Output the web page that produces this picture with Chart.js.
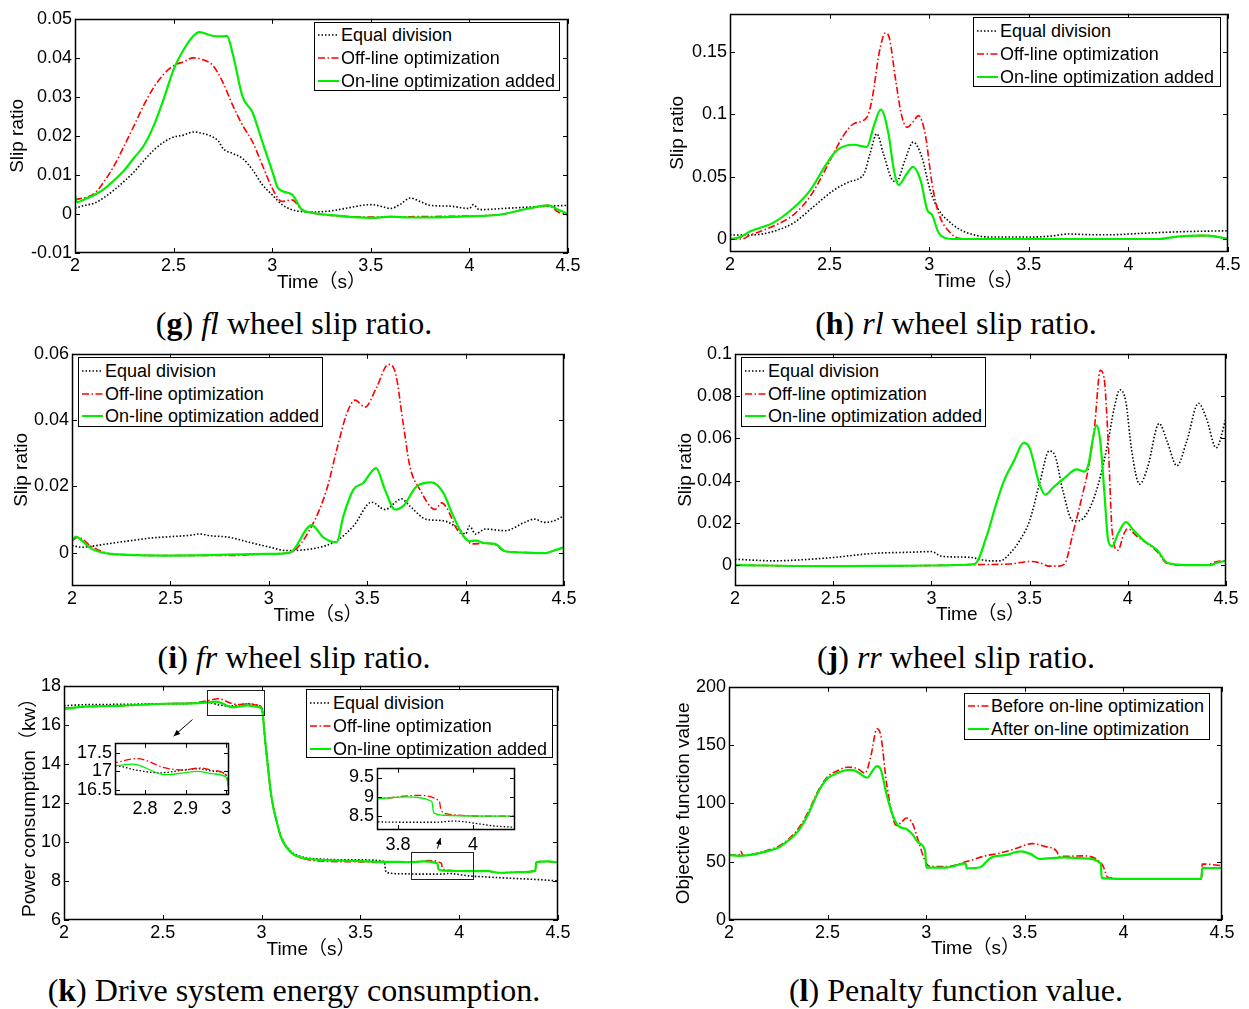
<!DOCTYPE html>
<html>
<head>
<meta charset="utf-8">
<script src="https://cdn.jsdelivr.net/npm/chart.js@4.4.0/dist/chart.umd.min.js"></script>
<style>
body { margin:0; background:#fff; width:1249px; height:1009px; position:relative; overflow:hidden;
       font-family:"Liberation Sans", Arial, "Noto Sans CJK SC", sans-serif; }
canvas { position:absolute; }
.legend { position:absolute; box-sizing:border-box; border:1px solid #000; background:#fff; font-size:18px; color:#000; }
.legend .row { position:absolute; left:0; height:22px; display:flex; align-items:center; white-space:nowrap; }
.legend svg { display:block; }
.cap { position:absolute; font-family:"Liberation Serif", "Times New Roman", serif; font-size:32px; line-height:1;
       white-space:nowrap; transform:translate(-50%, -50%); color:#000; }
</style>
</head>
<body>
<script>
// ---- data: [time (s), value] ----
const xTicks = [2, 2.5, 3, 3.5, 4, 4.5];

// (g) fl wheel slip ratio
const flEqual = [[2.0,0.0015],[2.05,0.0022],[2.1,0.0028],[2.15,0.0043],[2.2,0.0062],[2.25,0.0084],[2.3,0.0108],[2.35,0.0137],[2.4,0.0164],[2.45,0.0184],[2.5,0.0197],[2.55,0.0202],[2.6,0.021],[2.65,0.0206],[2.7,0.0197],[2.73,0.0185],[2.75,0.0168],[2.8,0.0155],[2.85,0.0142],[2.9,0.0113],[2.95,0.0075],[3.0,0.0049],[3.05,0.0024],[3.1,0.0011],[3.2,0.0005],[3.3,0.0008],[3.4,0.0017],[3.5,0.0024],[3.55,0.002],[3.6,0.0014],[3.65,0.0025],[3.7,0.0041],[3.75,0.0032],[3.8,0.0022],[3.9,0.002],[4.0,0.0014],[4.02,0.0024],[4.05,0.0011],[4.2,0.0015],[4.4,0.002],[4.5,0.0022]];
const flOffline = [[2.0,0.0036],[2.1,0.0053],[2.15,0.0085],[2.2,0.0125],[2.25,0.0175],[2.3,0.0227],[2.35,0.028],[2.4,0.0325],[2.45,0.0358],[2.5,0.038],[2.55,0.039],[2.6,0.040],[2.65,0.0395],[2.7,0.038],[2.75,0.0337],[2.8,0.0278],[2.85,0.0227],[2.9,0.0185],[2.95,0.0125],[3.0,0.0066],[3.05,0.0032],[3.1,0.0036],[3.15,0.0011],[3.2,0.0003],[3.3,-0.0004],[3.5,-0.0008],[3.7,-0.0007],[4.0,-0.0005],[4.15,-0.0002],[4.3,0.0014],[4.4,0.0022],[4.45,0.0005],[4.5,-0.0002]];
const flOnline = [[2.0,0.0048],[2.01,0.003],[2.05,0.0038],[2.1,0.0049],[2.15,0.0065],[2.2,0.0087],[2.25,0.0112],[2.3,0.0144],[2.35,0.0176],[2.4,0.0227],[2.45,0.0295],[2.5,0.037],[2.55,0.042],[2.6,0.0456],[2.63,0.0466],[2.7,0.0456],[2.75,0.0455],[2.77,0.0456],[2.8,0.041],[2.85,0.030],[2.9,0.026],[2.95,0.0185],[3.0,0.011],[3.03,0.0066],[3.1,0.005],[3.15,0.0011],[3.2,0.0003],[3.3,-0.0003],[3.5,-0.001],[3.6,-0.0007],[3.7,-0.0009],[4.0,-0.0006],[4.15,-0.0002],[4.3,0.0014],[4.4,0.0022],[4.45,0.0011],[4.5,0]];
const flTicks = [-0.01, 0, 0.01, 0.02, 0.03, 0.04, 0.05];

// (h) rl wheel slip ratio
const rlEqual = [[2.0,0.0032],[2.1,0.0032],[2.22,0.0062],[2.32,0.013],[2.42,0.026],[2.52,0.039],[2.6,0.0459],[2.65,0.0486],[2.675,0.053],[2.703,0.0684],[2.737,0.0843],[2.77,0.0684],[2.81,0.0486],[2.836,0.0459],[2.878,0.063],[2.92,0.0776],[2.963,0.0657],[3.005,0.039],[3.047,0.0234],[3.1,0.014],[3.15,0.008],[3.2,0.0045],[3.3,0.0016],[3.5,0.0016],[3.6,0.0022],[3.7,0.004],[3.8,0.0035],[3.9,0.0034],[4.1,0.0048],[4.3,0.006],[4.5,0.0066]];
const rlOffline = [[2.0,0],[2.06,0],[2.1,0.003],[2.216,0.0102],[2.318,0.0194],[2.402,0.034],[2.486,0.0578],[2.528,0.071],[2.57,0.083],[2.62,0.0922],[2.687,0.0975],[2.712,0.111],[2.75,0.150],[2.78,0.165],[2.8,0.161],[2.83,0.129],[2.86,0.100],[2.888,0.0895],[2.92,0.094],[2.946,0.0988],[2.98,0.084],[3.014,0.0446],[3.047,0.0208],[3.1,0.006],[3.15,0.0005],[3.2,0],[4.15,0],[4.25,0.002],[4.35,0.0027],[4.4,0.0027],[4.5,0]];
const rlOnline = [[2.0,0],[2.05,0.0015],[2.1,0.006],[2.216,0.0129],[2.318,0.0248],[2.402,0.039],[2.486,0.0605],[2.536,0.071],[2.62,0.0755],[2.687,0.0737],[2.72,0.0895],[2.757,0.1036],[2.796,0.084],[2.82,0.0578],[2.846,0.0433],[2.888,0.0525],[2.918,0.0578],[2.957,0.047],[2.99,0.0234],[3.014,0.0194],[3.047,0.005],[3.08,0.0008],[3.12,0],[4.15,0],[4.25,0.002],[4.35,0.0027],[4.4,0.0027],[4.5,0]];
const rlTicks = [0, 0.05, 0.1, 0.15];

// (i) fr wheel slip ratio
const frEqual = [[2.0,0.0021],[2.05,0.0016],[2.1,0.0019],[2.2,0.0028],[2.3,0.0036],[2.4,0.0044],[2.5,0.0048],[2.6,0.0052],[2.65,0.0056],[2.7,0.0051],[2.8,0.0046],[2.9,0.0031],[3.006,0.0016],[3.09,0.0006],[3.26,0.0016],[3.345,0.0036],[3.43,0.008],[3.523,0.0152],[3.59,0.013],[3.675,0.0162],[3.717,0.014],[3.802,0.010],[3.887,0.0096],[3.955,0.0076],[4.0,0.0056],[4.02,0.008],[4.05,0.0056],[4.1,0.0071],[4.2,0.0066],[4.3,0.0091],[4.35,0.0101],[4.4,0.0091],[4.45,0.0096],[4.5,0.0111]];
const frOffline = [[2.0,0.0036],[2.03,0.0046],[2.1,0.0018],[2.2,-0.0004],[2.5,-0.0009],[2.8,-0.0009],[3.0,-0.0004],[3.108,0],[3.218,0.008],[3.294,0.019],[3.345,0.031],[3.396,0.0419],[3.438,0.046],[3.489,0.0439],[3.548,0.0499],[3.607,0.0568],[3.641,0.0548],[3.683,0.0389],[3.717,0.026],[3.768,0.019],[3.845,0.013],[3.878,0.015],[3.904,0.0135],[3.955,0.0071],[4.005,0.0041],[4.03,0.0026],[4.1,0.0028],[4.15,0.0024],[4.2,0.0004],[4.3,0],[4.4,-0.0002],[4.45,0.0006],[4.5,0.0016]];
const frOnline = [[2.0,0.0036],[2.02,0.0048],[2.05,0.0036],[2.1,0.0011],[2.2,-0.0004],[2.5,-0.0009],[3.0,-0.0004],[3.108,0],[3.218,0.0083],[3.277,0.0046],[3.345,0.0031],[3.379,0.011],[3.43,0.019],[3.48,0.021],[3.545,0.0255],[3.59,0.019],[3.641,0.013],[3.683,0.014],[3.751,0.020],[3.828,0.0212],[3.887,0.018],[3.93,0.012],[3.988,0.0051],[4.02,0.0034],[4.05,0.0036],[4.1,0.0028],[4.15,0.0026],[4.2,0.0004],[4.3,0],[4.4,-0.0002],[4.45,0.0006],[4.5,0.0016]];
const frTicks = [0, 0.02, 0.04, 0.06];

// (j) rr wheel slip ratio
const rrEqual = [[2.0,0.0028],[2.1,0.0023],[2.2,0.002],[2.3,0.0023],[2.5,0.0036],[2.7,0.0055],[2.9,0.0061],[3.0,0.0064],[3.05,0.0042],[3.1,0.0039],[3.2,0.0036],[3.3,0.002],[3.35,0.002],[3.4,0.0055],[3.45,0.0117],[3.5,0.021],[3.55,0.0383],[3.6,0.054],[3.63,0.0516],[3.67,0.035],[3.72,0.021],[3.75,0.021],[3.8,0.0258],[3.85,0.0383],[3.9,0.0586],[3.93,0.074],[3.96,0.083],[3.99,0.0773],[4.02,0.054],[4.06,0.0383],[4.1,0.046],[4.16,0.067],[4.2,0.0586],[4.25,0.047],[4.3,0.0586],[4.36,0.0766],[4.4,0.0695],[4.45,0.0555],[4.5,0.0695]];
const rrOffline = [[2.0,0],[2.5,-0.0005],[3.0,-0.0002],[3.2,0.0002],[3.4,0.0005],[3.5,0.0017],[3.55,0.0011],[3.6,-0.0005],[3.65,-0.0005],[3.68,0.0008],[3.72,0.0148],[3.77,0.0336],[3.8,0.0461],[3.83,0.0648],[3.86,0.0922],[3.88,0.088],[3.9,0.0586],[3.92,0.0164],[3.95,0.007],[3.98,0.0148],[4.0,0.0172],[4.05,0.0133],[4.1,0.0102],[4.15,0.0063],[4.2,0.0008],[4.3,0],[4.4,0],[4.45,0.0016],[4.5,0.002]];
const rrOnline = [[2.0,0],[2.5,-0.0005],[3.0,-0.0002],[3.22,0.0005],[3.28,0.0133],[3.33,0.029],[3.37,0.040],[3.42,0.0492],[3.47,0.0578],[3.5,0.0555],[3.55,0.0383],[3.58,0.0333],[3.62,0.0367],[3.68,0.0414],[3.74,0.0453],[3.78,0.0442],[3.8,0.0477],[3.82,0.0586],[3.84,0.0661],[3.86,0.0586],[3.88,0.0352],[3.9,0.0117],[3.92,0.0089],[3.95,0.0148],[3.99,0.0203],[4.03,0.0164],[4.08,0.0117],[4.15,0.007],[4.2,0.0011],[4.3,0],[4.42,0],[4.45,0.001],[4.5,0.002]];
const rrTicks = [0, 0.02, 0.04, 0.06, 0.08, 0.1];

// (k) drive system power consumption (kW)
const powerEqual = [[2.0,16.98],[2.1,17.03],[2.3,17.05],[2.5,17.08],[2.65,17.1],[2.726,17.15],[2.775,17.04],[2.835,16.96],[2.893,17.03],[2.932,17.07],[2.971,17.0],[3.0,16.9],[3.02,15.0],[3.05,12.3],[3.08,10.9],[3.1,10.25],[3.15,9.5],[3.2,9.25],[3.3,9.12],[3.5,9.08],[3.62,9.0],[3.63,8.45],[3.7,8.37],[3.8,8.35],[3.9,8.35],[3.95,8.38],[4.0,8.33],[4.05,8.26],[4.11,8.22],[4.2,8.17],[4.3,8.12],[4.4,8.07],[4.5,8.0]];
const powerOffline = [[2.0,16.85],[2.1,16.92],[2.3,16.98],[2.5,17.08],[2.65,17.12],[2.726,17.23],[2.78,17.34],[2.85,17.09],[2.89,17.04],[2.94,17.09],[2.97,17.02],[3.0,16.89],[3.02,15.0],[3.05,12.3],[3.08,10.9],[3.1,10.2],[3.15,9.45],[3.2,9.18],[3.3,9.02],[3.5,8.98],[3.6,8.95],[3.7,8.98],[3.744,8.96],[3.85,9.04],[3.91,8.9],[3.915,8.65],[3.94,8.55],[4.0,8.51],[4.15,8.5],[4.2,8.42],[4.3,8.45],[4.385,8.52],[4.39,8.95],[4.45,9.0],[4.5,8.95]];
const powerOnline = [[2.0,16.81],[2.1,16.93],[2.3,16.98],[2.5,17.08],[2.65,17.1],[2.726,17.15],[2.77,17.19],[2.85,16.91],[2.89,16.95],[2.93,17.0],[2.97,16.93],[3.0,16.84],[3.02,15.0],[3.05,12.3],[3.08,10.9],[3.1,10.2],[3.15,9.45],[3.2,9.2],[3.3,9.08],[3.5,9.02],[3.6,8.98],[3.7,8.98],[3.744,8.96],[3.82,9.0],[3.89,8.89],[3.895,8.6],[3.92,8.53],[4.0,8.51],[4.15,8.5],[4.2,8.42],[4.3,8.45],[4.385,8.52],[4.39,8.95],[4.45,9.0],[4.5,8.95]];
const powerTicks = [6, 8, 10, 12, 14, 16, 18];
const zoomATicksX = [2.8, 2.9, 3], zoomATicksY = [16.5, 17, 17.5];
const zoomBTicksX = [3.8, 4], zoomBTicksY = [8.5, 9, 9.5];

// (l) penalty (objective) function value
const penaltyBefore = [[2.0,55.6],[2.05,56],[2.06,59],[2.07,55.5],[2.1,55.8],[2.2,60],[2.25,63],[2.3,69],[2.35,78],[2.4,92],[2.45,110],[2.5,123],[2.55,128],[2.6,131],[2.65,130],[2.69,126],[2.72,141],[2.75,164],[2.77,158],[2.8,116],[2.85,81],[2.87,83],[2.9,87.5],[2.93,83],[2.96,68],[3.0,48.6],[3.03,45.8],[3.1,45.8],[3.21,50.3],[3.3,55],[3.365,57],[3.45,61],[3.536,65.5],[3.612,62.7],[3.665,58],[3.67,54.5],[3.8,55],[3.888,48.6],[3.9,45],[3.92,36.7],[4.0,35.3],[4.395,35.3],[4.4,48],[4.5,46.6]];
const penaltyAfter = [[2.0,55.6],[2.05,55],[2.1,55.6],[2.2,59.3],[2.25,62],[2.3,68],[2.35,76],[2.4,90],[2.45,109],[2.5,121.5],[2.55,126],[2.6,128.5],[2.63,128.5],[2.66,126],[2.7,122],[2.73,128.5],[2.75,132],[2.77,129],[2.8,107],[2.83,90],[2.86,80.5],[2.9,78],[2.93,73.5],[2.96,66.4],[2.995,58.8],[3.0,45],[3.1,45],[3.2,48.6],[3.205,44.4],[3.27,45],[3.33,53.7],[3.4,55.6],[3.48,58.8],[3.53,56.5],[3.575,52.3],[3.7,53.7],[3.8,52.8],[3.885,48.6],[3.89,36.2],[4.0,35.3],[4.395,35.3],[4.4,44.6],[4.5,44.6]];
const penaltyTicks = [0, 50, 100, 150, 200];

const labelsThree = ['Equal division', 'Off-line optimization', 'On-line optimization added'];
const labelsTwo = ['Before on-line optimization', 'After on-line optimization'];

// ---- styles ----
const FONT = '"Liberation Sans", Arial, "Noto Sans CJK SC", sans-serif';
Chart.defaults.font.family = FONT;
Chart.defaults.color = '#000';

const BLACK = {color: '#000000', dash: [1.5, 2], width: 1.6};
const RED = {color: '#ff0000', dash: [7, 2.5, 1.5, 2.5], width: 1.6};
const GREEN = {color: '#00ee00', dash: [], width: 2.2};

const TICK_SIZE = 18, TITLE_SIZE = 19;

function fmt(v) { return String(+v.toFixed(4)); }

// box frame + inward tick marks, like a matlab axes
const framePlugin = {
    id: 'frame',
    beforeDatasetsDraw(chart) {
        const a = chart.chartArea, ctx = chart.ctx;
        ctx.save();
        ctx.fillStyle = '#fff';
        ctx.fillRect(a.left, a.top, a.right - a.left, a.bottom - a.top);
        ctx.restore();
    },
    afterDraw(chart) {
        const {ctx, chartArea: a, scales: {x, y}} = chart;
        ctx.save();
        ctx.strokeStyle = '#000';
        ctx.lineWidth = 1;
        ctx.beginPath();
        x.ticks.forEach(t => {
            const px = Math.round(x.getPixelForValue(t.value)) + 0.5;
            ctx.moveTo(px, a.bottom); ctx.lineTo(px, a.bottom - 5);
            ctx.moveTo(px, a.top); ctx.lineTo(px, a.top + 5);
        });
        y.ticks.forEach(t => {
            const py = Math.round(y.getPixelForValue(t.value)) + 0.5;
            ctx.moveTo(a.left, py); ctx.lineTo(a.left + 5, py);
            ctx.moveTo(a.right, py); ctx.lineTo(a.right - 5, py);
        });
        ctx.stroke();
        ctx.lineWidth = 1.5;
        ctx.strokeRect(Math.round(a.left) + 0.5, Math.round(a.top) + 0.5,
                       Math.round(a.right - a.left) - 1, Math.round(a.bottom - a.top) - 1);
        ctx.restore();
    }
};

function lineSet(points, st, order, thin) {
    return {
        data: points.map(p => ({x: p[0], y: p[1]})),
        borderColor: st.color,
        borderDash: st.dash,
        borderWidth: thin ? Math.min(st.width, 1.3) : st.width,
        pointRadius: 0,
        fill: false,
        cubicInterpolationMode: 'monotone',
        order: order,
        clip: 0
    };
}

function panel(o) {
    const w = o.box.r - o.box.l, h = o.box.b - o.box.t;
    const padT = 12, padR = 22;
    const cv = document.createElement('canvas');
    cv.width = o.yW + w + padR;
    cv.height = padT + h + o.xH;
    cv.style.left = (o.box.l - o.yW) + 'px';
    cv.style.top = (o.box.t - padT) + 'px';
    cv.style.width = cv.width + 'px';
    cv.style.height = cv.height + 'px';
    document.body.appendChild(cv);
    const sets = o.series.map((s, i) => lineSet(s.pts, s.st, o.series.length - 1 - i, o.thin));
    return new Chart(cv, {
        type: 'line',
        data: {datasets: sets},
        options: {
            responsive: false,
            animation: false,
            devicePixelRatio: 1,
            layout: {padding: {top: padT, right: padR, left: 0, bottom: 0}},
            plugins: {legend: {display: false}, tooltip: {enabled: false}},
            scales: {
                x: {
                    type: 'linear', min: o.xMin, max: o.xMax,
                    afterBuildTicks: s => { s.ticks = o.xTicks.map(v => ({value: v})); },
                    afterFit: s => { s.height = o.xH; },
                    grid: {display: false, drawTicks: false},
                    border: {display: false},
                    ticks: {font: {size: TICK_SIZE}, padding: o.xPad || 2, maxRotation: 0, autoSkip: false, callback: v => fmt(v)},
                    title: {display: !!o.xTitle, text: o.xTitle, font: {size: TITLE_SIZE}, padding: 0}
                },
                y: {
                    type: 'linear', min: o.yMin, max: o.yMax,
                    afterBuildTicks: s => { s.ticks = o.yTicks.map(v => ({value: v})); },
                    afterFit: s => { s.width = o.yW; },
                    grid: {display: false, drawTicks: false},
                    border: {display: false},
                    ticks: {font: {size: TICK_SIZE}, padding: 3, autoSkip: false, callback: v => fmt(v)},
                    title: {display: !!o.yTitle, text: o.yTitle, font: {size: TITLE_SIZE}, padding: 0}
                }
            }
        },
        plugins: [framePlugin].concat(o.plugins || [])
    });
}

function legend(x, y, w, h, rows, items) {
    const d = document.createElement('div');
    d.className = 'legend';
    d.style.left = x + 'px'; d.style.top = y + 'px';
    d.style.width = w + 'px'; d.style.height = h + 'px';
    items.forEach((it, i) => {
        const r = document.createElement('div');
        r.className = 'row';
        r.style.top = (rows[i] - 11) + 'px';
        r.innerHTML = '<svg width="26" height="22"><line x1="3" y1="11" x2="24" y2="11" stroke="' + it.st.color +
            '" stroke-width="' + Math.min(it.st.width, 2) + '" stroke-dasharray="' + (it.st.dash.join(' ') || 'none') +
            '"/></svg><span>' + it.label + '</span>';
        d.appendChild(r);
    });
    document.body.appendChild(d);
}

function caption(cx, cy, html) {
    const c = document.createElement('div');
    c.className = 'cap';
    c.style.left = cx + 'px'; c.style.top = cy + 'px';
    c.innerHTML = html;
    document.body.appendChild(c);
}

const TIME = 'Time（s）';
const three = (a, b, c) => [{pts: a, st: BLACK}, {pts: b, st: RED}, {pts: c, st: GREEN}];
const threeLegend = [{label: labelsThree[0], st: BLACK}, {label: labelsThree[1], st: RED}, {label: labelsThree[2], st: GREEN}];

// (g)
panel({box: {l: 75, t: 17, r: 568, b: 253}, yW: 69, xH: 41, xMin: 2, xMax: 4.5, yMin: -0.01, yMax: 0.05,
       xTicks: xTicks, yTicks: flTicks, xTitle: TIME, yTitle: 'Slip ratio', series: three(flEqual, flOffline, flOnline)});
legend(314, 22, 246, 69, [12, 35, 58], threeLegend);
caption(294, 323, '(<b>g</b>) <i>fl</i> wheel slip ratio.');

// (h)
panel({box: {l: 730, t: 12, r: 1228, b: 252}, yW: 64, xH: 41, xMin: 2, xMax: 4.5, yMin: -0.0104, yMax: 0.1804,
       xTicks: xTicks, yTicks: rlTicks, xTitle: TIME, yTitle: 'Slip ratio', series: three(rlEqual, rlOffline, rlOnline)});
legend(973, 17, 248, 70, [13, 36, 59], threeLegend);
caption(956, 323, '(<b>h</b>) <i>rl</i> wheel slip ratio.');

// (i)
panel({box: {l: 72, t: 352, r: 564, b: 586}, yW: 62, xH: 41, xMin: 2, xMax: 4.5, yMin: -0.0101, yMax: 0.06,
       xTicks: xTicks, yTicks: frTicks, xTitle: TIME, yTitle: 'Slip ratio', series: three(frEqual, frOffline, frOnline)});
legend(78, 357, 245, 70, [13, 36, 58], threeLegend);
caption(294, 657, '(<b>i</b>) <i>fr</i> wheel slip ratio.');

// (j)
panel({box: {l: 735, t: 352, r: 1226, b: 586}, yW: 61, xH: 40, xMin: 2, xMax: 4.5, yMin: -0.0099, yMax: 0.1,
       xTicks: xTicks, yTicks: rrTicks, xTitle: TIME, yTitle: 'Slip ratio', series: three(rrEqual, rrOffline, rrOnline)});
legend(741, 357, 245, 70, [13, 36, 58], threeLegend);
caption(956, 657, '(<b>j</b>) <i>rr</i> wheel slip ratio.');

// (k) with two zoom boxes, arrows and insets
const kBoxes = [[2.725, 3.012, 16.52, 17.8], [3.755, 4.07, 8.08, 9.46]];
const kArrows = [[2.65, 16.27, 2.555, 15.42], [3.89, 9.66, 3.905, 10.2]];
const kMarks = {
    id: 'kMarks',
    afterDraw(chart) {
        const {ctx, scales: {x, y}} = chart;
        ctx.save();
        ctx.strokeStyle = '#222';
        ctx.lineWidth = 1;
        kBoxes.forEach(b => {
            const x0 = Math.round(x.getPixelForValue(b[0])) + 0.5, x1 = Math.round(x.getPixelForValue(b[1])) + 0.5;
            const y0 = Math.round(y.getPixelForValue(b[3])) + 0.5, y1 = Math.round(y.getPixelForValue(b[2])) + 0.5;
            ctx.strokeRect(x0, y0, x1 - x0, y1 - y0);
        });
        ctx.strokeStyle = '#000';
        ctx.fillStyle = '#000';
        kArrows.forEach(a => {
            const x0 = x.getPixelForValue(a[0]), y0 = y.getPixelForValue(a[1]);
            const x1 = x.getPixelForValue(a[2]), y1 = y.getPixelForValue(a[3]);
            const ang = Math.atan2(y1 - y0, x1 - x0);
            ctx.beginPath(); ctx.moveTo(x0, y0); ctx.lineTo(x1, y1); ctx.stroke();
            ctx.beginPath();
            ctx.moveTo(x1, y1);
            ctx.lineTo(x1 - 7 * Math.cos(ang - 0.4), y1 - 7 * Math.sin(ang - 0.4));
            ctx.lineTo(x1 - 7 * Math.cos(ang + 0.4), y1 - 7 * Math.sin(ang + 0.4));
            ctx.closePath(); ctx.fill();
        });
        ctx.restore();
    }
};
panel({box: {l: 64, t: 684, r: 558, b: 920}, yW: 46, xH: 41, xMin: 2, xMax: 4.5, yMin: 6, yMax: 18,
       xTicks: xTicks, yTicks: powerTicks, xTitle: TIME, yTitle: 'Power consumption（kw）',
       series: three(powerEqual, powerOffline, powerOnline), plugins: [kMarks]});
panel({box: {l: 115, t: 741, r: 229, b: 795}, yW: 50, xH: 26, xPad: 3, xMin: 2.726, xMax: 3.007, yMin: 16.37, yMax: 17.76,
       xTicks: zoomATicksX, yTicks: zoomATicksY, series: three(powerEqual, powerOffline, powerOnline), thin: true});
panel({box: {l: 377, t: 766, r: 515, b: 830}, yW: 40, xH: 26, xPad: 4, xMin: 3.744, xMax: 4.112, yMin: 8.15, yMax: 9.75,
       xTicks: zoomBTicksX, yTicks: zoomBTicksY, series: three(powerEqual, powerOffline, powerOnline), thin: true});
legend(306, 689, 247, 69, [13, 36, 59], threeLegend);
caption(294, 990, '(<b>k</b>) Drive system energy consumption.');

// (l)
panel({box: {l: 729, t: 685, r: 1222, b: 920}, yW: 57, xH: 40, xMin: 2, xMax: 4.5, yMin: 0, yMax: 200,
       xTicks: xTicks, yTicks: penaltyTicks, xTitle: TIME, yTitle: 'Objective function value',
       series: [{pts: penaltyBefore, st: RED}, {pts: penaltyAfter, st: GREEN}]});
legend(964, 693, 246, 47, [12, 35], [{label: labelsTwo[0], st: RED}, {label: labelsTwo[1], st: GREEN}]);
caption(956, 990, '(<b>l</b>) Penalty function value.');
</script>
</body>
</html>
